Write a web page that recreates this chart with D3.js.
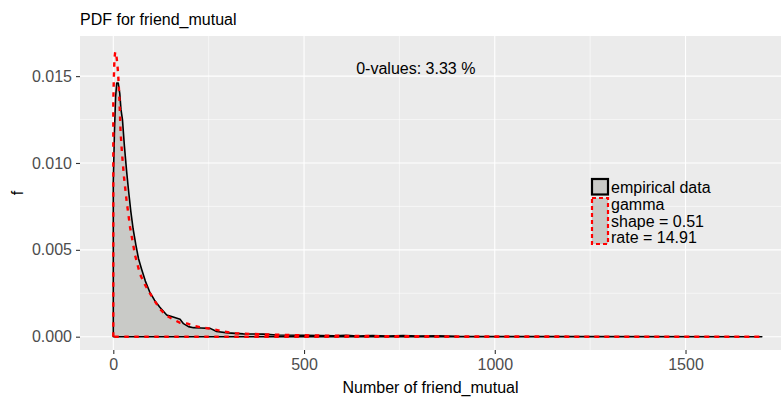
<!DOCTYPE html>
<html><head><meta charset="utf-8">
<script src="https://cdnjs.cloudflare.com/ajax/libs/d3/7.8.5/d3.min.js"></script>
<style>body{margin:0;background:#fff}svg{display:block;font-family:"Liberation Sans",Arial,sans-serif}</style>
</head><body><svg id="c" width="784" height="401"></svg>
<script>
// Empirical density (x, f)
const empX = [0,0,3,6,9,13,17,20,24,29,35,40,46,52,59,66,74,84,95,108,122,140,157,175,184,197,210,230,254,271,300,341,393,428,500,580,610,640,680,720,760,800,850,900,1000,1200,1700];
const empF = [0,0.0089,0.0118,0.0138,0.0146,0.0146,0.0140,0.0131,0.0125,0.0110,0.0095,0.0084,0.0072,0.0062,0.0053,0.0045,0.0039,0.0032,0.0026,0.0021,0.0017,0.00125,0.00113,0.00100,0.00075,0.00058,0.00052,0.00050,0.00048,0.00030,0.00022,0.00016,0.00015,0.00010,0.00008,0.00005,0.00008,0.00004,0.00007,0.00004,0.00006,0.00003,0.00005,0.00002,0.00001,0.000005,0];
// Fitted gamma density (x, f)
const gamX = [0,0,1,2,3,5,8,11,13,16,19,23,28,35,44,57,70,83,96,110,122,140,157,175,195,215,240,260,288,320,358,420,500,600,700,850,1000,1300,1700];
const gamF = [0,0.0135,0.0145,0.0153,0.0160,0.0164,0.0162,0.0156,0.0150,0.0137,0.0118,0.0105,0.0092,0.0078,0.0063,0.0047,0.0036,0.0030,0.0025,0.0020,0.0016,0.0012,0.0010,0.0008,0.00075,0.0006,0.0005,0.00045,0.0003,0.0002,0.00016,0.00012,0.00008,0.00005,0.00003,0.00002,0.00001,0.000005,0];
const xTicks = [0,500,1000,1500];
const xMinor = [250,750,1250];
const yTicks = [0,0.005,0.010,0.015];
const yMinor = [0.0025,0.0075,0.0125];
const yTickLabels = ["0.000","0.005","0.010","0.015"];
const legendLabels = ["empirical data","gamma","shape = 0.51","rate = 14.91"];
const zeroNote = "0-values: 3.33 %";

const svg = d3.select("#c");
const P = {l:80, r:781, t:36, b:350};
const x = d3.scaleLinear().domain([-87.3,1750.3]).range([P.l,P.r]);
const y = d3.scaleLinear().domain([-0.000766,0.01731]).range([P.b,P.t]);
const fillGray = "#c9cac7";

svg.append("rect").attr("x",P.l).attr("y",P.t).attr("width",P.r-P.l).attr("height",P.b-P.t).attr("fill","#ebebeb");
const g = svg.append("g");
xMinor.forEach(v=>g.append("line").attr("x1",x(v)).attr("x2",x(v)).attr("y1",P.t).attr("y2",P.b).attr("stroke","#fff").attr("stroke-width",0.55));
yMinor.forEach(v=>g.append("line").attr("y1",y(v)).attr("y2",y(v)).attr("x1",P.l).attr("x2",P.r).attr("stroke","#fff").attr("stroke-width",0.55));
xTicks.forEach(v=>g.append("line").attr("x1",x(v)).attr("x2",x(v)).attr("y1",P.t).attr("y2",P.b).attr("stroke","#fff").attr("stroke-width",1.1));
yTicks.forEach(v=>g.append("line").attr("y1",y(v)).attr("y2",y(v)).attr("x1",P.l).attr("x2",P.r).attr("stroke","#fff").attr("stroke-width",1.1));

const emp = empX.map((v,i)=>[v,empF[i]]);
const gam = gamX.map((v,i)=>[v,gamF[i]]);
const line = d3.line().x(d=>x(d[0])).y(d=>y(d[1]));
svg.append("path").attr("d",line(emp)+"Z").attr("fill",fillGray).attr("stroke","#000").attr("stroke-width",1.6).attr("stroke-linejoin","round");
svg.append("path").attr("d",line(gam)+"Z").attr("fill","none").attr("stroke","#ff0000").attr("stroke-width",2.4).attr("stroke-dasharray","4.5 5.5");

// axes
const xa = svg.append("g").attr("transform",`translate(0,${P.b})`).call(d3.axisBottom(x).tickValues(xTicks).tickSize(4).tickPadding(5).tickFormat(d3.format("d")));
const ya = svg.append("g").attr("transform",`translate(${P.l},0)`).call(d3.axisLeft(y).tickValues(yTicks).tickSize(4).tickPadding(4).tickFormat((d,i)=>yTickLabels[i]));
[xa,ya].forEach(a=>{a.select(".domain").remove();a.selectAll("line").attr("stroke","#333").attr("stroke-width",1.1);a.selectAll("text").attr("fill","#4d4d4d").attr("font-size",16).attr("font-family","Liberation Sans, Arial, sans-serif");});

svg.append("text").attr("x",P.l).attr("y",25).attr("font-size",16).text("PDF for friend_mutual");
svg.append("text").attr("x",(P.l+P.r)/2).attr("y",393).attr("text-anchor","middle").attr("font-size",16).text("Number of friend_mutual");
svg.append("text").attr("transform",`translate(23,${(P.t+P.b)/2}) rotate(-90)`).attr("text-anchor","middle").attr("font-size",16).text("f");
svg.append("text").attr("x",x(793)).attr("y",73.5).attr("text-anchor","middle").attr("font-size",16).text(zeroNote);

// legend
const lg = svg.append("g");
lg.append("rect").attr("x",592).attr("y",179).attr("width",16).attr("height",15.5).attr("fill",fillGray).attr("stroke","#000").attr("stroke-width",2.2);
lg.append("rect").attr("x",592).attr("y",198).attr("width",16).attr("height",46).attr("fill",fillGray).attr("stroke","#ff0000").attr("stroke-width",2.2).attr("stroke-dasharray","4 3");
legendLabels.forEach((t,i)=>lg.append("text").attr("x",611).attr("y",193.3+i*16.67).attr("font-size",16).text(t));
</script></body></html>
